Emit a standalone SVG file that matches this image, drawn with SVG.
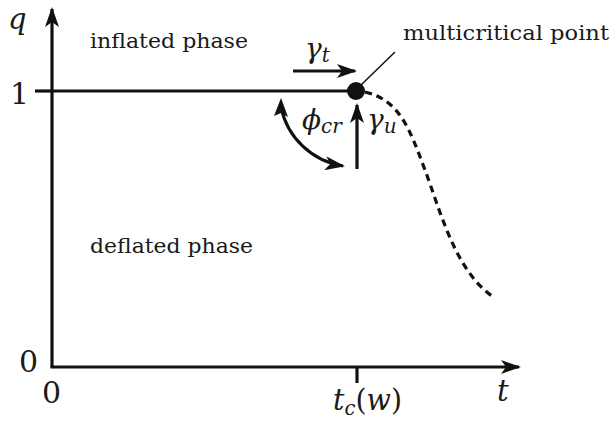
<svg xmlns="http://www.w3.org/2000/svg" width="610" height="424" viewBox="0 0 610 424">
<style>
text{font-family:'DejaVu Serif','Liberation Serif',serif;fill:#1a1a1a}
.math{font-style:italic}
.ln{stroke:#111;stroke-width:3.2;fill:none}
</style>
<defs>
<marker id="ah" viewBox="0 0 20 14" refX="18" refY="7" markerWidth="20" markerHeight="14" markerUnits="userSpaceOnUse" orient="auto">
<path d="M0,0 L20,7 L0,14 L5,7 Z" fill="#111"/>
</marker>
</defs>
<rect width="610" height="424" fill="#fff"/>
<g id="axes">
<line class="ln" x1="52" y1="367" x2="52" y2="9" marker-end="url(#ah)"/>
<line class="ln" x1="50.4" y1="367" x2="519" y2="367" marker-end="url(#ah)"/>
<line class="ln" x1="35" y1="91" x2="52" y2="91"/>
<line class="ln" x1="357" y1="367" x2="357" y2="383"/>
</g>
<g id="connectors">
<line class="ln" x1="52" y1="91" x2="356" y2="91"/>
<path class="ln" d="M365,92 C400,100 410,130 425,170 C440,210 455,270 492,296" stroke-dasharray="7,5" stroke-width="3.4"/>
<line x1="361" y1="85" x2="395" y2="52" stroke="#111" stroke-width="1.5"/>
<line class="ln" x1="293" y1="71" x2="355" y2="71" marker-end="url(#ah)" stroke-width="2.8"/>
<line class="ln" x1="357" y1="169" x2="357" y2="105" marker-end="url(#ah)" stroke-width="2.8"/>
<path class="ln" stroke-width="2.8" d="M281,107 A75,75 0 0 0 343,166" marker-end="url(#ah)"/>
<path d="M281,98 L288,117 L281,113 L274,116 Z" fill="#111"/>
</g>
<g id="multicritical-point">
<circle cx="356" cy="91" r="9" fill="#111"/>
<text x="403" y="40" font-size="20" textLength="206" lengthAdjust="spacingAndGlyphs">multicritical point</text>
</g>
<g id="labels">
<text class="math" x="8" y="29" font-size="29">q</text>
<text x="10" y="104" font-size="30">1</text>
<text x="19" y="372" font-size="30">0</text>
<text x="42" y="403" font-size="30">0</text>
<text class="math" x="497" y="401" font-size="29">t</text>
<text class="math" x="333" y="410" font-size="29" textLength="69" lengthAdjust="spacingAndGlyphs">t<tspan font-size="20" dy="5">c</tspan><tspan font-style="normal" dy="-5">(</tspan>w<tspan font-style="normal">)</tspan></text>
<text x="90" y="48" font-size="21" textLength="158" lengthAdjust="spacingAndGlyphs">inflated phase</text>
<text x="90" y="253" font-size="21" textLength="163" lengthAdjust="spacingAndGlyphs">deflated phase</text>
<text class="math" x="305" y="58" font-size="28">γ<tspan font-size="20" dy="4">t</tspan></text>
<text class="math" x="367" y="129" font-size="28">γ<tspan font-size="20" dy="4">u</tspan></text>
<text class="math" x="302" y="129" font-size="28">ϕ<tspan font-size="20" dy="4">cr</tspan></text>
</g>
</svg>
